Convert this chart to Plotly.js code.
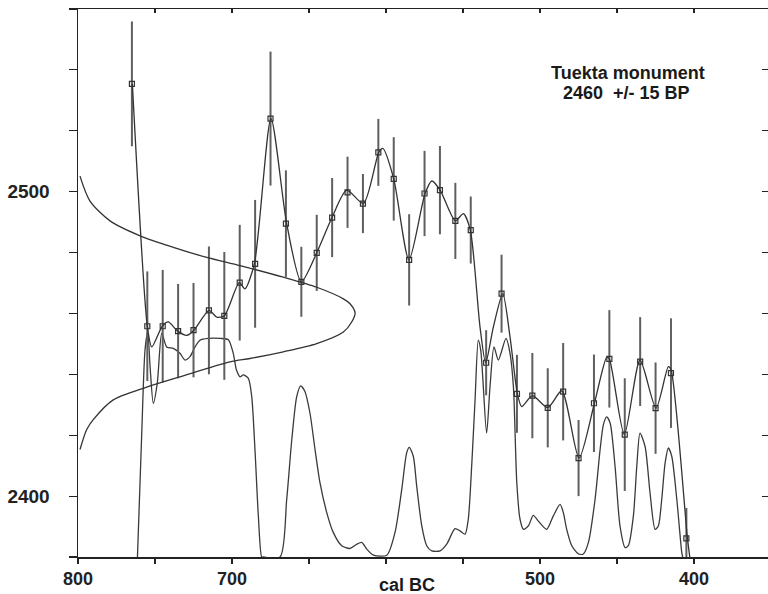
<!DOCTYPE html>
<html>
<head>
<meta charset="utf-8">
<script src="https://cdn.plot.ly/plotly-3.0.1.min.js"></script>
<style>
  html, body { margin: 0; padding: 0; background: #ffffff; }
  #chart { width: 768px; height: 594px; }
</style>
</head>
<body>
<div id="chart"></div>
<script>
// Calibration curve data points (cal BC, BP, 1-sigma error)
const calX = [765, 755, 745, 735, 725, 715, 705, 695, 685, 675, 665, 655, 645, 635, 625, 615, 605, 595, 585, 575, 565, 555, 545, 535, 525, 515, 505, 495, 485, 475, 465, 455, 445, 435, 425, 415, 405];
const calBP = [2535.4, 2455.8, 2455.8, 2454.2, 2454.5, 2461.0, 2459.2, 2470.1, 2476.3, 2524.0, 2489.5, 2470.4, 2479.9, 2491.5, 2499.8, 2496.1, 2512.9, 2504.2, 2477.6, 2499.4, 2500.5, 2490.4, 2487.4, 2443.8, 2466.5, 2433.6, 2433.0, 2429.0, 2434.3, 2412.5, 2430.5, 2445.1, 2420.2, 2444.2, 2428.9, 2440.4, 2386.1];
const calErr = [20.5, 18, 18.5, 15.5, 15.5, 21, 21, 19, 21, 22, 17.5, 11.5, 12.5, 13, 11.7, 9.7, 11, 13.7, 15, 14, 14.5, 12.5, 11, 10.7, 12.8, 12.8, 14, 13, 16, 12.5, 16, 16, 18.5, 14.6, 15, 18, 10];

// Calibration curve line (as traced)
const curveX = [764.7, 755.0, 752.1, 745.3, 741.4, 735.3, 729.4, 724.7, 714.9, 709.9, 705.0, 695.3, 691.6, 685.5, 674.7, 664.5, 655.0, 645.0, 635.1, 625.5, 614.7, 604.7, 602.1, 595.0, 585.1, 574.7, 570.3, 564.9, 555.0, 549.8, 545.3, 539.0, 535.3, 530.3, 524.2, 519.5, 514.7, 511.9, 505.0, 495.0, 485.9, 474.7, 464.7, 456.7, 455.0, 445.3, 435.1, 424.7, 416.7, 414.9, 404.3, 402.6];
const curveBP = [2535.4, 2455.8, 2449.0, 2455.8, 2457.2, 2454.2, 2452.8, 2454.5, 2461.0, 2458.8, 2459.2, 2470.1, 2468.1, 2476.3, 2524.0, 2489.5, 2470.4, 2479.9, 2491.5, 2500.5, 2496.1, 2512.9, 2514.2, 2504.2, 2477.6, 2499.3, 2503.5, 2500.5, 2490.4, 2492.8, 2487.4, 2455.6, 2443.8, 2455.6, 2466.5, 2452.3, 2433.6, 2429.4, 2433.0, 2429.1, 2434.6, 2412.5, 2430.5, 2445.6, 2445.1, 2420.2, 2444.7, 2428.9, 2442.5, 2441.4, 2386.1, 2379.3];

// Measured date distribution (2460 +/- 15 BP) drawn off the BP axis
const gaussX = [798.7, 792.2, 779.2, 759.7, 738.1, 716.4, 694.8, 666.7, 645.0, 627.7, 623.4, 620.1, 622.3, 627.7, 645.0, 666.7, 688.3, 701.3, 733.8, 755.4, 777.1, 790.1, 794.4, 798.7];
const gaussBP = [2505.1, 2496.9, 2490.4, 2485.5, 2481.7, 2478.4, 2475.7, 2471.9, 2468.6, 2464.8, 2463.2, 2460.2, 2457.2, 2453.9, 2450.1, 2447.4, 2445.2, 2444.1, 2439.2, 2435.8, 2431.6, 2425.1, 2421.8, 2415.3];

// Calibrated probability distribution (cal BC, height in BP units)
const probX = [761.4, 758.6, 756.5, 754.7, 753.2, 751.1, 748.5, 745.6, 742.4, 738.1, 733.8, 730.5, 727.3, 724.0, 720.8, 715.4, 707.8, 702.4, 699.2, 697.1, 694.8, 692.7, 689.4, 687.2, 685.1, 682.9, 680.7, 679.7, 668.8, 664.5, 661.2, 658.0, 655.4, 652.6, 649.4, 646.1, 642.9, 638.5, 634.2, 628.8, 623.4, 619.0, 615.8, 612.5, 608.2, 599.5, 594.2, 589.8, 586.6, 584.9, 582.3, 580.1, 576.8, 573.6, 570.3, 564.9, 560.6, 555.2, 552.0, 548.7, 546.6, 544.4, 542.2, 540.1, 538.5, 534.7, 532.5, 529.9, 527.1, 522.1, 519.5, 517.3, 515.1, 513.0, 510.8, 507.6, 504.4, 501.1, 495.7, 491.4, 487.0, 484.9, 482.7, 479.4, 475.1, 471.9, 468.6, 464.3, 461.0, 458.9, 456.7, 454.5, 451.3, 448.1, 444.8, 442.7, 439.4, 437.2, 435.1, 431.8, 428.6, 425.3, 423.2, 421.0, 418.8, 416.7, 414.5, 411.2, 408.0, 407.4];
const probBP = [2380, 2420.8, 2447.9, 2453.9, 2442.5, 2430.5, 2437.2, 2453.5, 2449.0, 2448.5, 2446.9, 2444.7, 2445.8, 2449.0, 2451.2, 2451.8, 2451.8, 2451.4, 2446.9, 2441.4, 2439.2, 2439.8, 2438.7, 2432.7, 2415.3, 2393.5, 2380, 2380, 2380, 2398.9, 2418.5, 2432.7, 2436.2, 2434.3, 2427.3, 2415.3, 2404.4, 2394.6, 2388.0, 2383.7, 2382.8, 2384.2, 2384.8, 2382.6, 2380.6, 2380.6, 2388.0, 2402.2, 2414.2, 2416.0, 2413.1, 2403.3, 2390.2, 2383.7, 2382.0, 2382.0, 2384.2, 2389.3, 2388.6, 2387.5, 2392.4, 2409.8, 2431.6, 2451.2, 2447.9, 2420.7, 2435.9, 2449.0, 2444.7, 2451.8, 2446.9, 2435.9, 2404.4, 2392.4, 2389.1, 2390.2, 2393.7, 2391.8, 2389.1, 2393.5, 2397.3, 2394.6, 2389.1, 2383.7, 2381.0, 2381.0, 2384.8, 2398.9, 2415.3, 2423.4, 2426.0, 2424.0, 2409.8, 2390.2, 2383.1, 2383.7, 2393.5, 2409.8, 2420.7, 2416.3, 2401.1, 2389.1, 2390.2, 2398.9, 2410.9, 2415.8, 2413.1, 2398.9, 2381.5, 2380];

// Axis ticks
const xTickVals = [800, 750, 700, 650, 600, 550, 500, 450, 400];
const xTickText = ['800', '', '700', '', '', '', '500', '', '400'];
const yTickVals = [2380, 2400, 2420, 2440, 2460, 2480, 2500, 2520, 2540, 2560];
const yTickText = ['', '2400', '', '', '', '', '2500', '', '', ''];

const titleLine1 = 'Tuekta monument';
const titleLine2 = '2460\u00a0\u00a0+/- 15 BP';
const xTitle = 'cal BC';

const FONT = 'Liberation Sans, Arial, Helvetica, sans-serif';
const AX = '#222222';
const XR = [800, 352];
const YR = [2380, 2560];

const traces = [
  {
    x: probX, y: probBP, type: 'scatter', mode: 'lines',
    line: { color: '#3a3a3a', width: 1.3, shape: 'spline', smoothing: 0.7 },
    hoverinfo: 'skip', showlegend: false
  },
  {
    x: gaussX, y: gaussBP, type: 'scatter', mode: 'lines',
    xaxis: 'x2', yaxis: 'y2',
    line: { color: '#333333', width: 1.3, shape: 'spline', smoothing: 0.8 },
    hoverinfo: 'skip', showlegend: false
  },
  {
    x: calX, y: calBP, type: 'scatter', mode: 'markers',
    marker: { symbol: 'line-ew', size: 0.1, color: 'rgba(0,0,0,0)' },
    error_y: { type: 'data', array: calErr, visible: true, width: 0, thickness: 2, color: '#5f5f5f' },
    hoverinfo: 'skip', showlegend: false
  },
  {
    x: curveX, y: curveBP, type: 'scatter', mode: 'lines',
    line: { color: '#333333', width: 1.3, shape: 'spline', smoothing: 0.7 },
    hoverinfo: 'skip', showlegend: false
  },
  {
    x: calX, y: calBP, type: 'scatter', mode: 'markers',
    marker: { symbol: 'square-open', size: 5, color: '#333333', line: { width: 1.2, color: '#333333' } },
    hoverinfo: 'skip', showlegend: false
  }
];

const layout = {
  width: 768, height: 594,
  margin: { l: 78, r: 0, t: 9, b: 37, pad: 0 },
  paper_bgcolor: '#ffffff', plot_bgcolor: '#ffffff',
  showlegend: false,
  font: { family: FONT, color: AX },
  xaxis: {
    range: XR, showgrid: false, zeroline: false,
    showline: true, linecolor: AX, linewidth: 1.5,
    ticks: 'outside', ticklen: 5, tickwidth: 1.5, tickcolor: AX,
    tickmode: 'array', tickvals: xTickVals, ticktext: xTickText,
    tickfont: { family: FONT, size: 18, weight: 'bold', color: AX },
    ticklabelstandoff: 0
  },
  xaxis2: {
    range: XR, overlaying: 'x', side: 'top', anchor: 'y2',
    showgrid: false, zeroline: false,
    showline: true, linecolor: AX, linewidth: 1.5,
    ticks: 'inside', ticklen: 4, tickwidth: 1.2, tickcolor: AX,
    tickmode: 'array', tickvals: xTickVals, showticklabels: false
  },
  yaxis: {
    range: YR, showgrid: false, zeroline: false,
    showline: true, linecolor: AX, linewidth: 1.5,
    ticks: 'outside', ticklen: 8, tickwidth: 1.2, tickcolor: AX,
    tickmode: 'array', tickvals: yTickVals, ticktext: yTickText,
    tickfont: { family: FONT, size: 19, weight: 'bold', color: AX },
    ticklabelstandoff: 15
  },
  yaxis2: {
    range: YR, overlaying: 'y', side: 'right', anchor: 'x2',
    showgrid: false, zeroline: false, showline: false,
    ticks: 'inside', ticklen: 6, tickwidth: 1.2, tickcolor: AX,
    tickmode: 'array', tickvals: yTickVals, showticklabels: false
  },
  annotations: [
    { text: titleLine1, xref: 'paper', yref: 'paper', x: 0.797, y: 0.883, xanchor: 'center', yanchor: 'middle',
      showarrow: false, font: { family: FONT, size: 18, weight: 'bold', color: '#1a1a1a' } },
    { text: titleLine2, xref: 'paper', yref: 'paper', x: 0.795, y: 0.847, xanchor: 'center', yanchor: 'middle',
      showarrow: false, font: { family: FONT, size: 18, weight: 'bold', color: '#1a1a1a' } },
    { text: xTitle, xref: 'paper', yref: 'paper', x: 0.477, y: -0.051, xanchor: 'center', yanchor: 'middle',
      showarrow: false, font: { family: FONT, size: 18, weight: 'bold', color: '#1a1a1a' } }
  ]
};

Plotly.newPlot('chart', traces, layout, { staticPlot: true, displayModeBar: false });
</script>
</body>
</html>
